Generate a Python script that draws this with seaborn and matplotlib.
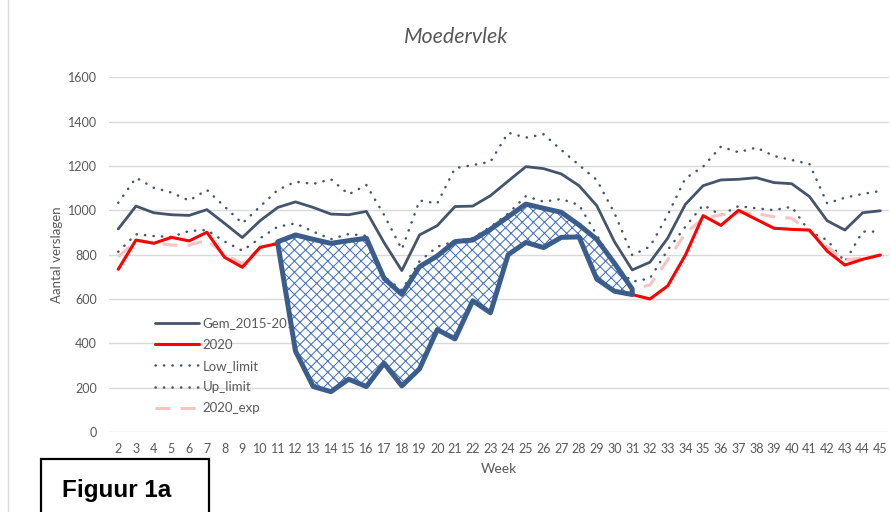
import matplotlib
matplotlib.use("Agg")
import matplotlib.pyplot as plt
import matplotlib.patches as mpatches
import matplotlib.lines as mlines
import seaborn as sns
import pandas as pd

# weeks on the x axis
weeks = list(range(2, 46))

# series
gem = [916, 1019, 989, 980, 977, 1003, 941, 877, 953, 1013, 1038, 1013, 983, 980,
       995, 854, 728, 889, 931, 1017, 1019, 1066, 1132, 1197, 1188, 1164, 1111, 1021,
       858, 731, 766, 874, 1027, 1111, 1137, 1140, 1147, 1125, 1120, 1062, 953, 911,
       989, 998]
y2020 = [734, 866, 851, 878, 862, 901, 788, 743, 833, 850, 365, 205, 182, 238,
         205, 310, 208, 285, 462, 420, 592, 538, 800, 855, 832, 878, 880, 690,
         635, 620, 600, 659, 798, 976, 932, 1000, 959, 919, 914, 911, 816, 753,
         779, 798]
exp2020 = [790, 860, 855, 843, 843, 865, 800, 760, 830, 858, 889, 869, 851, 863,
           874, 693, 621, 746, 794, 859, 866, 914, 971, 1028, 1009, 991, 934, 869,
           761, 645, 663, 776, 896, 964, 979, 989, 985, 971, 964, 904, 836, 776,
           785, 800]
low = [813, 892, 884, 880, 907, 911, 859, 818, 874, 926, 941, 904, 870, 893,
       885, 700, 640, 770, 836, 860, 875, 925, 985, 1064, 1039, 1051, 1024, 889,
       750, 678, 693, 821, 926, 1024, 979, 1019, 1009, 1001, 1016, 904, 866, 768,
       904, 904]
up = [1034, 1147, 1102, 1080, 1044, 1092, 1017, 941, 1017, 1092, 1129, 1119, 1140, 1072,
      1114, 979, 824, 1044, 1031, 1190, 1204, 1219, 1350, 1328, 1343, 1272, 1204, 1137,
      987, 798, 836, 979, 1144, 1197, 1287, 1262, 1283, 1245, 1227, 1209, 1031, 1057,
      1074, 1087]

# shaded period
shade_start, shade_end = 11, 31

df = pd.DataFrame({"week": weeks, "gem": gem, "y2020": y2020, "exp": exp2020,
                   "low": low, "up": up})

sns.set_theme(style="white")
plt.rcParams["font.family"] = ["Lato", "DejaVu Sans"]
plt.rcParams["hatch.linewidth"] = 0.75

grey = "#595959"
slate = "#44546a"

fig = plt.figure(figsize=(8.91, 5.12), dpi=100)
ax = fig.add_axes([109.4 / 891, 80 / 512, 779.8 / 891, 354.7 / 512])

dots = (0, (0.1, 3.3))
sns.lineplot(data=df, x="week", y="gem", ax=ax, color=slate, lw=2.0,
             label="Gem_2015-2019", zorder=3)
sns.lineplot(data=df, x="week", y="y2020", ax=ax, color="#ff0000", lw=2.2,
             label="2020", zorder=3)
sns.lineplot(data=df, x="week", y="low", ax=ax, color=slate, lw=1.8,
             linestyle=dots, dash_capstyle="round", label="Low_limit", zorder=2)
sns.lineplot(data=df, x="week", y="up", ax=ax, color=slate, lw=1.8,
             linestyle=dots, dash_capstyle="round", label="Up_limit", zorder=2)
sns.lineplot(data=df, x="week", y="exp", ax=ax, color="#f8c3c3", lw=2.2,
             linestyle=(0, (4.9, 3.3)), label="2020_exp", zorder=2)

# hatched area between expected and observed
sub = df[(df["week"] >= shade_start) & (df["week"] <= shade_end)]
ax.fill_between(sub["week"], sub["y2020"], sub["exp"], facecolor="white",
                hatch="xxx", edgecolor="#4472c4", linewidth=0, zorder=6)
px = list(sub["week"]) + list(sub["week"])[::-1]
py = list(sub["exp"]) + list(sub["y2020"])[::-1]
ax.fill(px, py, facecolor="none", edgecolor="#3b5d8c", lw=3.6,
        joinstyle="round", zorder=7)

ax.set_xlim(1.5, 45.5)
ax.set_ylim(0, 1600)
ax.set_xticks(weeks)
ax.set_yticks(range(0, 1601, 200))
ax.tick_params(axis="both", length=0, labelsize=9, colors=grey)
ax.tick_params(axis="y", pad=9)
ax.tick_params(axis="x", pad=8)
ax.yaxis.grid(True, color="#d9d9d9", lw=1)
ax.xaxis.grid(False)
ax.set_axisbelow(True)
sns.despine(ax=ax, left=True, bottom=True)
ax.set_xlabel("")
ax.set_ylabel("")

leg = ax.legend(loc="upper left", bbox_to_anchor=(0.058, 0.323), frameon=False,
                fontsize=9.5, handlelength=3.4, handletextpad=0.25,
                labelspacing=0.7, borderaxespad=0, borderpad=0)
for t in leg.get_texts():
    t.set_color(grey)
leg.set_zorder(5)

fig.text(456 / 891, 1 - 37 / 512, "Moedervlek", ha="center", va="center",
         fontsize=15.5, style="italic", color=grey)
fig.text(57 / 891, 1 - 255 / 512, "Aantal verslagen", ha="center", va="center",
         rotation=90, fontsize=9.5, color=grey)
fig.text(499 / 891, 1 - 469 / 512, "Week", ha="center", va="center",
         fontsize=10, color=grey)

# chart frame line on the left
fig.add_artist(mlines.Line2D([8 / 891, 8 / 891], [0, 1], transform=fig.transFigure,
                             color="#d9d9d9", lw=1))

# "Figuur 1a" box
fig.add_artist(mpatches.Rectangle((41 / 891, -0.05), 168 / 891, 53 / 512 + 0.05,
                                  transform=fig.transFigure, fill=False,
                                  edgecolor="black", lw=1.6, clip_on=False))
fig.text(62 / 891, 1 - 491 / 512, "Figuur 1a", ha="left", va="center",
         fontsize=17.5, fontweight="bold", color="black",
         family=["Liberation Sans", "DejaVu Sans"])

fig.savefig("out.png", dpi=100)
